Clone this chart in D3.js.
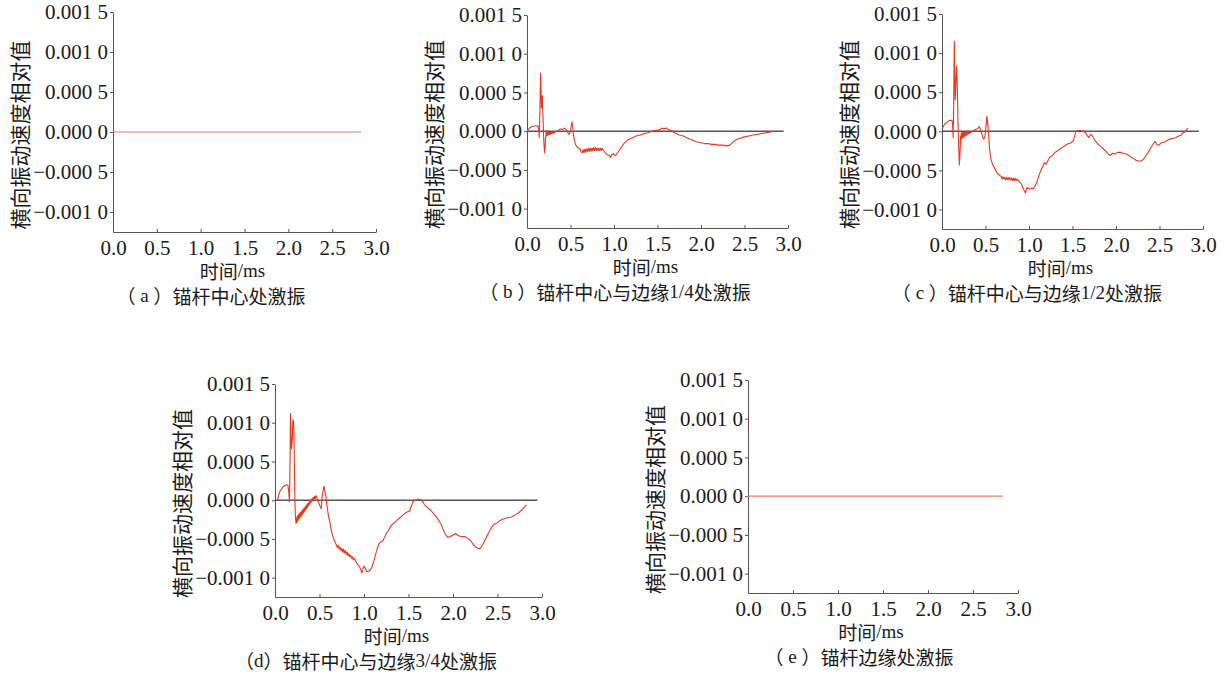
<!DOCTYPE html>
<html>
<head>
<meta charset="utf-8">
<script src="https://cdn.jsdelivr.net/npm/d3@7"></script>
<style>
  body { margin: 0; background: #fff; }
  svg { display: block; }
  text { fill: #1a1a1a; }
</style>
</head>
<body>
<svg id="chart" width="1227" height="675"></svg>
<script>
// tick values
var xTicks = [0, 0.5, 1.0, 1.5, 2.0, 2.5, 3.0];
var yTicks = [0.0015, 0.001, 0.0005, 0, -0.0005, -0.001];

var yLabel = "横向振动速度相对值";
var xLabel = "时间/ms";
var captions = [
    "（ a ）锚杆中心处激振",
    "（ b ）锚杆中心与边缘1/4处激振",
    "（ c ）锚杆中心与边缘1/2处激振",
    "（d）锚杆中心与边缘3/4处激振",
    "（ e ）锚杆边缘处激振"
];

// [time ms, relative velocity]
var seriesA = [[0, 0], [2.83, 0]];

var seriesB = [
    [0, 0], [0.03, 0.00004], [0.06, 0.00006], [0.1, 0.00007], [0.125, 0.00007], [0.135, 0.00002],
    [0.14, -0.00008], [0.145, 0.0001], [0.152, 0.0005], [0.157, 0.00075], [0.162, 0.0005], [0.166, 0.0003],
    [0.171, 0.00038], [0.176, 0.00046], [0.18, 0.0003], [0.185, 0.00015], [0.19, -0.00005], [0.196, -0.00018],
    [0.203, -0.00028], [0.208, -0.00022], [0.213, -0.0001], [0.218, -0.00004], [0.222, 0.00001], [0.226, -0.00006],
    [0.23, 0.0], [0.234, -0.00005], [0.238, -0.00001], [0.242, -0.00005], [0.246, -0.00001], [0.25, -0.00004],
    [0.255, -0.00001], [0.26, -0.00004], [0.265, -0.00001], [0.27, -0.00004], [0.276, -0.00001], [0.282, -0.00003],
    [0.29, -0.00001], [0.3, -0.00003], [0.31, -0.00001], [0.32, -0.00002], [0.335, 0.0], [0.35, 0.0],
    [0.37, 0.00002], [0.39, 0.00003], [0.41, 0.00002], [0.43, 0.00004], [0.45, 0.00002], [0.47, -0.00002],
    [0.485, -0.00004], [0.5, 0.0], [0.51, 0.00008], [0.517, 0.00012], [0.525, 0.00006], [0.532, -0.00003],
    [0.54, -0.00009], [0.55, -0.00014], [0.56, -0.00018], [0.575, -0.0002], [0.59, -0.00022], [0.605, -0.00022],
    [0.62, -0.00026], [0.635, -0.00028], [0.645, -0.00024], [0.655, -0.00028], [0.665, -0.00023], [0.675, -0.00027],
    [0.685, -0.00023], [0.695, -0.00026], [0.705, -0.00022], [0.715, -0.00026], [0.725, -0.00022], [0.735, -0.00026],
    [0.745, -0.00022], [0.755, -0.00025], [0.765, -0.00021], [0.775, -0.00025], [0.785, -0.00021], [0.795, -0.00025],
    [0.805, -0.00022], [0.815, -0.00025], [0.825, -0.00022], [0.835, -0.00025], [0.845, -0.00022], [0.855, -0.00025],
    [0.865, -0.00022], [0.88, -0.00025], [0.9, -0.00028], [0.92, -0.0003], [0.94, -0.00031], [0.96, -0.00034],
    [0.975, -0.0003], [0.99, -0.00029], [1.005, -0.00031], [1.02, -0.00031], [1.04, -0.00028], [1.065, -0.00024],
    [1.09, -0.0002], [1.12, -0.00015], [1.15, -0.00012], [1.18, -0.0001], [1.22, -0.00008], [1.26, -0.00006],
    [1.3, -0.00005], [1.35, -0.00003], [1.39, -0.00002], [1.43, 0.0], [1.47, 0.00001], [1.5, 0.00001],
    [1.53, 0.00002], [1.55, 0.00004], [1.57, 0.00003], [1.6, 0.00004], [1.63, 0.00002], [1.66, 0.00001],
    [1.69, -0.00002], [1.72, -0.00003], [1.75, -0.00005], [1.79, -0.00006], [1.83, -0.00008], [1.87, -0.0001],
    [1.9, -0.00011], [1.93, -0.00013], [1.96, -0.00014], [2.0, -0.00015], [2.04, -0.00016], [2.08, -0.00016],
    [2.12, -0.00017], [2.16, -0.00017], [2.2, -0.00018], [2.25, -0.00018], [2.3, -0.00019], [2.33, -0.00018],
    [2.36, -0.00015], [2.39, -0.00012], [2.42, -0.0001], [2.45, -0.00009], [2.48, -0.00008], [2.52, -0.00007],
    [2.56, -0.00006], [2.6, -0.00005], [2.65, -0.00004], [2.7, -0.00003], [2.75, -0.00002], [2.8, -0.00001],
    [2.83, 0.0]
];

var seriesC = [
    [0, 0.00003], [0.03, 0.00009], [0.06, 0.00012], [0.09, 0.00014], [0.115, 0.00014], [0.122, 0.00008],
    [0.128, -0.00008], [0.134, 0.0003], [0.139, 0.0009], [0.142, 0.00115], [0.146, 0.0008], [0.151, 0.0004],
    [0.156, 0.0005], [0.162, 0.0007], [0.168, 0.00083], [0.173, 0.0007], [0.178, 0.00045], [0.184, 0.0001],
    [0.19, -0.00014], [0.195, -0.0003], [0.2, -0.00043], [0.205, -0.00032], [0.21, -0.00019], [0.214, -0.00006],
    [0.217, -0.00012], [0.22, -0.00003], [0.223, -0.0001], [0.226, -0.00002], [0.229, -0.00009], [0.232, -0.00002],
    [0.235, -0.00008], [0.239, -0.00001], [0.243, -0.00008], [0.247, -0.00001], [0.251, -0.00007], [0.256, -0.00001],
    [0.261, -0.00006], [0.266, -0.00001], [0.271, -0.00006], [0.277, -0.00001], [0.283, -0.00005], [0.29, -0.00001],
    [0.297, -0.00004], [0.305, -0.00001], [0.313, -0.00003], [0.322, 0.0], [0.332, -0.00002], [0.345, 0.0],
    [0.36, 0.0], [0.38, 0.00002], [0.4, 0.00003], [0.415, 0.00004], [0.43, 0.00006], [0.44, 0.00003],
    [0.455, -0.00002], [0.465, -0.00006], [0.475, -0.0001], [0.487, -0.00009], [0.495, -0.00006], [0.505, 0.00006],
    [0.513, 0.00016], [0.517, 0.00019], [0.522, 0.00013], [0.53, 0.00005], [0.538, -0.00008], [0.545, -0.0002],
    [0.555, -0.0003], [0.565, -0.00037], [0.58, -0.00042], [0.6, -0.00046], [0.62, -0.00051], [0.64, -0.00054],
    [0.66, -0.00056], [0.68, -0.00058], [0.69, -0.00061], [0.7, -0.00058], [0.71, -0.00061], [0.72, -0.00059],
    [0.73, -0.00062], [0.74, -0.00059], [0.75, -0.00062], [0.76, -0.00059], [0.77, -0.00062], [0.78, -0.00059],
    [0.79, -0.00062], [0.8, -0.0006], [0.81, -0.00063], [0.82, -0.0006], [0.83, -0.00063], [0.84, -0.0006],
    [0.85, -0.00063], [0.86, -0.00061], [0.87, -0.00063], [0.88, -0.00063], [0.9, -0.00066], [0.915, -0.00068],
    [0.93, -0.00072], [0.945, -0.00076], [0.958, -0.00079], [0.97, -0.00074], [0.98, -0.00072], [0.995, -0.00073],
    [1.01, -0.00074], [1.03, -0.00073], [1.05, -0.00073], [1.07, -0.0007], [1.09, -0.00065], [1.11, -0.00058],
    [1.13, -0.00052], [1.15, -0.00047], [1.17, -0.00042], [1.18, -0.0004], [1.2, -0.00042], [1.22, -0.00037],
    [1.24, -0.00033], [1.27, -0.00031], [1.3, -0.00027], [1.33, -0.00025], [1.36, -0.00022], [1.39, -0.0002],
    [1.42, -0.00018], [1.45, -0.00016], [1.48, -0.00015], [1.51, -0.00012], [1.525, -0.00006], [1.54, 0.0],
    [1.56, 0.00001], [1.59, 0.00001], [1.62, 0.0], [1.65, -0.00002], [1.67, -0.00006], [1.69, -0.00008],
    [1.71, -0.00004], [1.73, -0.00006], [1.76, -0.00012], [1.79, -0.00016], [1.82, -0.00019], [1.85, -0.00022],
    [1.88, -0.00025], [1.91, -0.00029], [1.935, -0.00031], [1.96, -0.00028], [1.99, -0.00029], [2.02, -0.00027],
    [2.05, -0.00027], [2.08, -0.00028], [2.12, -0.00029], [2.16, -0.00032], [2.2, -0.00035], [2.23, -0.00037],
    [2.26, -0.00038], [2.29, -0.00038], [2.315, -0.00036], [2.34, -0.00032], [2.37, -0.00027], [2.4, -0.00021],
    [2.43, -0.00016], [2.45, -0.00013], [2.47, -0.00017], [2.49, -0.00018], [2.52, -0.00015], [2.55, -0.00014],
    [2.58, -0.00012], [2.62, -0.0001], [2.66, -0.00009], [2.69, -0.00008], [2.72, -0.00006], [2.75, -0.00005],
    [2.77, -0.00002], [2.79, -0.00001], [2.81, 0.00002], [2.83, 0.00004]
];

var seriesD = [
    [0.03, 0.0], [0.05, 0.0001], [0.07, 0.00014], [0.09, 0.00017], [0.11, 0.00019], [0.13, 0.0002],
    [0.146, 0.00019], [0.155, 0.0001], [0.163, -0.00002], [0.168, 0.0004], [0.173, 0.001], [0.176, 0.00112],
    [0.18, 0.0009], [0.184, 0.00066], [0.19, 0.00072], [0.195, 0.00079], [0.2, 0.001], [0.203, 0.00104],
    [0.208, 0.00102], [0.212, 0.0009], [0.217, 0.00057], [0.221, 0.0002], [0.225, -0.00006], [0.23, -0.00022],
    [0.236, -0.0003], [0.24, -0.00024], [0.244, -0.00029], [0.248, -0.00021], [0.252, -0.00027], [0.256, -0.0002],
    [0.26, -0.00026], [0.265, -0.00019], [0.27, -0.00024], [0.275, -0.00017], [0.28, -0.00023], [0.285, -0.00016],
    [0.29, -0.00021], [0.295, -0.00015], [0.3, -0.0002], [0.306, -0.00013], [0.312, -0.00018], [0.318, -0.00011],
    [0.324, -0.00016], [0.33, -0.0001], [0.336, -0.00014], [0.342, -0.00008], [0.348, -0.00012], [0.355, -0.00006],
    [0.362, -0.0001], [0.369, -0.00004], [0.376, -0.00007], [0.383, -0.00002], [0.39, -0.00005], [0.398, 0.0],
    [0.406, -0.00003], [0.414, 0.00002], [0.422, -0.00001], [0.43, 0.00004], [0.438, 0.00001], [0.446, 0.00005],
    [0.454, 0.00002], [0.462, 0.00006], [0.47, 0.00003], [0.48, 0.0], [0.49, -0.00003], [0.5, -0.00006],
    [0.51, -0.00009], [0.52, -0.00011], [0.525, -0.00003], [0.53, 0.00006], [0.54, 0.00012], [0.55, 0.00018],
    [0.56, 0.00012], [0.57, 0.00006], [0.58, -0.00004], [0.59, -0.00012], [0.6, -0.0002], [0.615, -0.00028],
    [0.63, -0.00037], [0.645, -0.00045], [0.66, -0.0005], [0.675, -0.00054], [0.69, -0.00058], [0.7, -0.00061],
    [0.71, -0.00058], [0.72, -0.00063], [0.73, -0.0006], [0.74, -0.00065], [0.75, -0.00062], [0.76, -0.00067],
    [0.77, -0.00063], [0.78, -0.00068], [0.79, -0.00065], [0.8, -0.0007], [0.81, -0.00067], [0.82, -0.00072],
    [0.83, -0.00069], [0.84, -0.00073], [0.85, -0.00071], [0.86, -0.00075], [0.87, -0.00073], [0.88, -0.00077],
    [0.89, -0.00075], [0.91, -0.0008], [0.93, -0.00083], [0.95, -0.00086], [0.965, -0.0009], [0.977, -0.00094],
    [0.99, -0.00088], [1.0, -0.00085], [1.015, -0.00088], [1.03, -0.00092], [1.05, -0.00092], [1.07, -0.0009],
    [1.09, -0.00086], [1.11, -0.00079], [1.13, -0.0007], [1.15, -0.00062], [1.17, -0.00056], [1.19, -0.00054],
    [1.21, -0.00053], [1.23, -0.00048], [1.25, -0.00043], [1.28, -0.00038], [1.31, -0.00032], [1.34, -0.00029],
    [1.37, -0.00026], [1.4, -0.00023], [1.43, -0.0002], [1.46, -0.00017], [1.49, -0.00015], [1.515, -0.00014],
    [1.53, -0.00008], [1.55, -0.00002], [1.57, 0.0], [1.6, 0.00001], [1.63, 0.00001], [1.66, -0.00002],
    [1.68, -0.00006], [1.7, -0.00008], [1.72, -0.0001], [1.75, -0.00013], [1.78, -0.00017], [1.81, -0.00021],
    [1.84, -0.00026], [1.87, -0.00032], [1.89, -0.00038], [1.91, -0.00043], [1.94, -0.00048], [1.97, -0.00047],
    [2.0, -0.00045], [2.03, -0.00043], [2.06, -0.00046], [2.09, -0.00047], [2.13, -0.00047], [2.16, -0.00049],
    [2.19, -0.00051], [2.22, -0.00056], [2.25, -0.0006], [2.28, -0.00062], [2.3, -0.00063], [2.32, -0.0006],
    [2.34, -0.00056], [2.37, -0.00049], [2.4, -0.00042], [2.43, -0.00036], [2.46, -0.00031], [2.49, -0.0003],
    [2.52, -0.00027], [2.55, -0.00025], [2.6, -0.00023], [2.65, -0.00022], [2.7, -0.00019], [2.73, -0.00017],
    [2.76, -0.00014], [2.79, -0.00011], [2.81, -0.00008], [2.826, -0.00006]
];

var seriesE = [[0, 0], [2.83, 0]];

var allSeries = [seriesA, seriesB, seriesC, seriesD, seriesE];
var showZero = [false, true, true, true, false];
var zeroLineEnd = 2.95;

// panel placement (pixels)
var layout = [
    { left: 113, top: 12, w: 263, h: 220, capX: 211 },
    { left: 527, top: 15, w: 261, h: 213, capX: 615 },
    { left: 942, top: 14, w: 261, h: 215, capX: 1027 },
    { left: 275, top: 384, w: 267, h: 213, capX: 366 },
    { left: 748, top: 380, w: 270, h: 213, capX: 859 }
];

var svg = d3.select("#chart");
var serif = "'Liberation Serif', serif";
var cjk = "'Noto Sans CJK SC', sans-serif";

function fmt(v) {
    var s = Math.abs(v).toFixed(4);
    s = s.slice(0, 5) + " " + s.slice(5);
    return (v < 0 ? "\u2212" : "") + s;
}

// split text so latin parts use the serif face and chinese the CJK face
function mixedText(sel, str) {
    str.match(/[\x00-\x7F]+|[^\x00-\x7F]+/g).forEach(function(part) {
        sel.append("tspan")
            .style("font-family", /^[\x00-\x7F]+$/.test(part) ? serif : cjk)
            .text(part);
    });
}

layout.forEach(function(L, i) {
    var x = d3.scaleLinear().domain([0, 3]).range([0, L.w]);
    var y = d3.scaleLinear().domain([-0.00125, 0.0015]).range([L.h, 0]);

    var g = svg.append("g")
        .attr("transform", "translate(" + L.left + "," + L.top + ")");

    var xAxis = g.append("g")
        .attr("transform", "translate(0," + L.h + ")")
        .call(d3.axisBottom(x).tickValues(xTicks).tickSizeInner(-3).tickSizeOuter(0).tickPadding(8)
            .tickFormat(d3.format(".1f")));

    var yAxis = g.append("g")
        .call(d3.axisLeft(y).tickValues(yTicks).tickSizeInner(3).tickSizeOuter(0).tickPadding(2)
            .tickFormat(fmt));

    [xAxis, yAxis].forEach(function(a) {
        a.selectAll("path, line").attr("stroke", "#555").attr("stroke-width", 1);
        a.selectAll("text")
            .style("font-family", serif)
            .style("font-size", "21px")
            .attr("fill", "#1a1a1a");
    });

    if (showZero[i]) {
        g.append("line")
            .attr("x1", x(0)).attr("x2", x(zeroLineEnd))
            .attr("y1", y(0)).attr("y2", y(0))
            .attr("stroke", "#555")
            .attr("stroke-width", 1.4);
    }

    var line = d3.line()
        .x(function(d) { return x(d[0]); })
        .y(function(d) { return y(d[1]); });

    g.append("path")
        .datum(allSeries[i])
        .attr("d", line)
        .attr("fill", "none")
        .attr("stroke", showZero[i] ? "#e8371f" : "#f07a68")
        .attr("stroke-width", showZero[i] ? 1.1 : 1.2)
        .attr("stroke-linejoin", "round");

    // y title
    g.append("text")
        .attr("transform", "translate(-94," + (L.h / 2 + 13) + ") rotate(-90)")
        .attr("text-anchor", "middle")
        .attr("dominant-baseline", "central")
        .style("font-family", cjk)
        .style("font-size", "21px")
        .text(yLabel);

    // x title
    var xt = g.append("text")
        .attr("x", L.w / 2 - 12)
        .attr("y", L.h + 38)
        .attr("text-anchor", "middle")
        .attr("dominant-baseline", "central")
        .style("font-size", "19px");
    mixedText(xt, xLabel);

    // caption
    var cap = svg.append("text")
        .attr("x", L.capX)
        .attr("y", L.top + L.h + 63)
        .attr("text-anchor", "middle")
        .attr("dominant-baseline", "central")
        .style("font-size", "19px");
    mixedText(cap, captions[i]);
});
</script>
</body>
</html>
